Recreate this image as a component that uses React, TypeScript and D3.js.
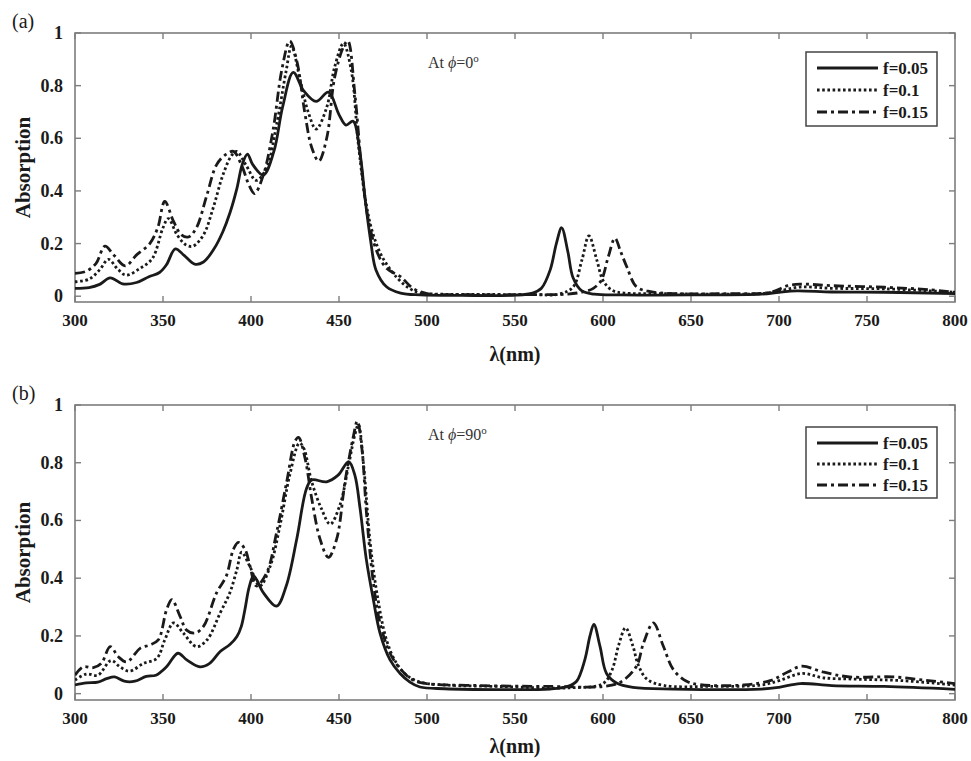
import React from "react";
import * as d3 from "d3";

type Pt = [number, number];

// ---------- data (wavelength nm, absorption) ----------
const xTicks = [300, 350, 400, 450, 500, 550, 600, 650, 700, 750, 800];
const yTicks = [0, 0.2, 0.4, 0.6, 0.8, 1];
const yTickLabels = ["0", "0.2", "0.4", "0.6", "0.8", "1"];
const seriesNames = ["f=0.05", "f=0.1", "f=0.15"];
const panelLabels = ["(a)", "(b)"];
const panelAngles = ["0", "90"];

const a005: Pt[] = [[300,0.03],[308,0.033],[314,0.045],[320,0.07],[327,0.047],[335,0.052],[342,0.074],[348,0.09],[352,0.12],[357,0.18],[362,0.155],[368,0.122],[373,0.13],[379,0.18],[384,0.245],[388,0.316],[392,0.41],[395,0.5],[398,0.54],[401,0.5],[407,0.46],[413,0.55],[418,0.72],[424,0.85],[430,0.78],[437,0.74],[444,0.775],[450,0.69],[454,0.65],[458,0.665],[462,0.54],[465,0.36],[468,0.21],[471,0.1],[477,0.036],[485,0.012],[496,0.005],[520,0.003],[550,0.004],[560,0.012],[565,0.03],[570,0.1],[573.5,0.2],[576.5,0.26],[580,0.17],[583,0.07],[588,0.02],[595,0.008],[610,0.005],[650,0.005],[690,0.008],[700,0.015],[710,0.02],[730,0.016],[760,0.015],[800,0.01]];
const a010: Pt[] = [[300,0.055],[308,0.065],[314,0.1],[319,0.14],[324,0.105],[329,0.08],[337,0.106],[344,0.144],[350,0.26],[353,0.295],[358,0.233],[363,0.195],[367,0.19],[373,0.233],[378.5,0.335],[384,0.46],[389,0.535],[392,0.55],[397,0.5],[403,0.44],[409,0.49],[414.5,0.65],[420,0.857],[423,0.95],[428,0.82],[432.5,0.7],[437,0.635],[443,0.717],[447.5,0.87],[452.5,0.96],[457,0.857],[461,0.577],[465.5,0.348],[469.5,0.233],[475,0.144],[483,0.07],[490,0.03],[496,0.012],[505,0.008],[530,0.007],[560,0.006],[575,0.008],[583,0.035],[588,0.137],[592,0.229],[596.5,0.137],[600,0.06],[605,0.023],[612,0.012],[630,0.01],[660,0.008],[690,0.01],[700,0.02],[712,0.035],[730,0.03],[760,0.028],[800,0.015]];
const a015: Pt[] = [[300,0.087],[306.5,0.095],[312,0.125],[317,0.19],[322,0.157],[328.5,0.115],[335,0.157],[342.5,0.2],[347,0.26],[351,0.36],[356,0.284],[360.5,0.233],[364.5,0.225],[369,0.26],[375,0.386],[380.5,0.5],[386,0.54],[390,0.55],[394.5,0.5],[399,0.42],[402,0.39],[407,0.46],[412.5,0.63],[417.5,0.86],[422,0.97],[426,0.895],[430.5,0.7],[434.5,0.565],[438.5,0.513],[443,0.6],[447.5,0.83],[452.5,0.947],[455,0.97],[459,0.77],[463,0.475],[466.5,0.297],[471.5,0.17],[477,0.106],[485,0.074],[492,0.03],[500,0.01],[520,0.006],[560,0.006],[580,0.008],[589,0.017],[594.5,0.03],[599,0.06],[603,0.15],[606.8,0.22],[610,0.17],[613.5,0.112],[619,0.036],[627,0.017],[640,0.01],[670,0.01],[695,0.015],[705,0.04],[712,0.046],[730,0.04],[760,0.034],[785,0.025],[800,0.015]];

const b005: Pt[] = [[300,0.03],[306.5,0.037],[313,0.04],[318,0.052],[322.5,0.058],[328,0.043],[334,0.043],[340.5,0.06],[346,0.064],[352,0.093],[358.5,0.14],[363.5,0.117],[371,0.093],[376.5,0.105],[382.5,0.146],[388,0.17],[392,0.198],[394.5,0.233],[396.5,0.29],[399,0.37],[401.5,0.408],[407,0.35],[414.5,0.303],[420,0.373],[426,0.536],[431.5,0.71],[434.5,0.74],[443,0.734],[449.5,0.757],[455.5,0.804],[459,0.757],[462,0.64],[465.5,0.466],[469.5,0.326],[473.3,0.21],[479,0.117],[484.7,0.07],[490.3,0.04],[496,0.023],[510,0.017],[540,0.014],[570,0.016],[580,0.025],[585,0.043],[589.7,0.118],[592.6,0.2],[594.8,0.24],[598.3,0.164],[602,0.07],[607.7,0.037],[617,0.022],[640,0.016],[690,0.016],[700,0.022],[712,0.035],[730,0.028],[760,0.025],[800,0.015]];
const b010: Pt[] = [[300,0.047],[306.5,0.068],[313,0.064],[320.5,0.115],[325.5,0.093],[331,0.078],[339,0.105],[346.5,0.122],[351,0.186],[356,0.245],[361.5,0.21],[369,0.163],[375,0.186],[382.5,0.28],[388,0.35],[392,0.43],[394.7,0.49],[399.4,0.44],[405,0.373],[411,0.443],[416.5,0.583],[422,0.757],[427.5,0.868],[430,0.85],[434.5,0.734],[440,0.641],[445,0.587],[450.5,0.653],[455.5,0.793],[459,0.897],[461,0.932],[464,0.79],[467.5,0.536],[471.5,0.35],[477,0.186],[482.7,0.105],[488.4,0.064],[496,0.04],[510,0.03],[540,0.025],[580,0.02],[600,0.035],[605,0.08],[609,0.17],[612.8,0.228],[617,0.165],[620,0.1],[625,0.05],[635,0.028],[660,0.025],[690,0.03],[700,0.045],[713,0.07],[725,0.055],[745,0.05],[770,0.045],[800,0.03]];
const b015: Pt[] = [[300,0.064],[304.7,0.093],[310.4,0.09],[315,0.105],[320,0.163],[324.6,0.128],[329.4,0.11],[337,0.157],[342.6,0.169],[347.3,0.186],[352,0.29],[355,0.326],[359.7,0.268],[363.4,0.22],[368.2,0.21],[373,0.233],[380.5,0.35],[386,0.408],[390,0.5],[392.8,0.524],[396.6,0.5],[399.4,0.443],[403,0.373],[409,0.42],[414.6,0.56],[420.3,0.734],[425,0.874],[427,0.888],[430.7,0.816],[434.5,0.676],[439.2,0.536],[444,0.472],[448.7,0.536],[453.4,0.734],[458,0.886],[460.4,0.944],[463,0.85],[465.7,0.618],[469.5,0.385],[473.3,0.245],[479,0.14],[484.7,0.087],[492,0.047],[500,0.035],[530,0.028],[570,0.025],[600,0.025],[610,0.04],[619,0.095],[623,0.175],[628.6,0.245],[634.3,0.164],[640,0.083],[647.5,0.043],[655,0.031],[680,0.03],[695,0.045],[705,0.075],[713,0.095],[725,0.075],[740,0.058],[765,0.058],[785,0.045],[800,0.035]];

// ---------- styling ----------
const dashes = [null, "2.6,2.6", "10,4,3,4"];
const SERIF = "'Liberation Serif', 'Times New Roman', serif";
const AXIS = "#7d7d7d";
const INK = "#1a1a1a";

const L = 75, R = 955;
const panels = [
  { top: 33, bottom: 302, data: [a005, a010, a015], legendTop: 52, xlabOff: 59 },
  { top: 405, bottom: 700, data: [b005, b010, b015], legendTop: 427, xlabOff: 53 },
];

function Panel({ idx }: { idx: number }) {
  const p = panels[idx];
  const x = d3.scaleLinear().domain([300, 800]).range([L, R]);
  const y = d3.scaleLinear().domain([-0.022, 1]).range([p.bottom, p.top]);
  const line = d3
    .line<Pt>()
    .x((d) => x(d[0]))
    .y((d) => y(d[1]))
    .curve(d3.curveCatmullRom.alpha(0.5));
  const clipId = `clip${idx}`;
  const tl = 6;
  const lx = 806, lw = 131, lh = idx === 0 ? 74 : 71;
  const rowGap = idx === 0 ? 22 : 21;
  return (
    <g>
      <defs>
        <clipPath id={clipId}>
          <rect x={L} y={p.top} width={R - L} height={p.bottom - p.top} />
        </clipPath>
      </defs>
      <rect x={L} y={p.top} width={R - L} height={p.bottom - p.top} fill="white" stroke={AXIS} strokeWidth={1.6} />
      {xTicks.map((t) => (
        <g key={"x" + t}>
          <line x1={x(t)} x2={x(t)} y1={p.bottom} y2={p.bottom - tl} stroke={AXIS} strokeWidth={1.4} />
          <line x1={x(t)} x2={x(t)} y1={p.top} y2={p.top + tl} stroke={AXIS} strokeWidth={1.4} />
          <text x={x(t)} y={p.bottom + 24} textAnchor="middle" fontFamily={SERIF} fontWeight="bold" fontSize={17} fill={INK}>
            {t}
          </text>
        </g>
      ))}
      {yTicks.map((t, i) => (
        <g key={"y" + t}>
          <line x1={L} x2={L + tl} y1={y(t)} y2={y(t)} stroke={AXIS} strokeWidth={1.4} />
          <line x1={R} x2={R - tl} y1={y(t)} y2={y(t)} stroke={AXIS} strokeWidth={1.4} />
          <text x={63} y={y(t) + 6} textAnchor="end" fontFamily={SERIF} fontWeight="bold" fontSize={18} fill={INK}>
            {yTickLabels[i]}
          </text>
        </g>
      ))}
      <g clipPath={`url(#${clipId})`}>
        {p.data.map((s, i) => (
          <path
            key={i}
            d={line(s) || ""}
            fill="none"
            stroke={INK}
            strokeWidth={2.8}
            strokeDasharray={dashes[i] || undefined}
            strokeLinejoin="round"
          />
        ))}
      </g>
      <text
        transform={`translate(30, ${(p.top + p.bottom) / 2}) rotate(-90)`}
        textAnchor="middle"
        fontFamily={SERIF}
        fontWeight="bold"
        fontSize={21}
        fill={INK}
      >
        Absorption
      </text>
      <text x={(L + R) / 2} y={p.bottom + p.xlabOff} textAnchor="middle" fontFamily={SERIF} fontWeight="bold" fontSize={20} fill={INK}>
        λ(nm)
      </text>
      <text x={12} y={p.top - 5} fontFamily={SERIF} fontSize={20} fill={INK}>
        {panelLabels[idx]}
      </text>
      <text x={428} y={p.top + 35} fontFamily={SERIF} fontSize={16} fill="#333">
        At <tspan fontStyle="italic">ϕ</tspan>={panelAngles[idx]}
        <tspan dy={-6} fontSize={11}>o</tspan>
      </text>
      <rect x={lx} y={p.legendTop} width={lw} height={lh} fill="white" stroke="#444" strokeWidth={1.5} />
      {seriesNames.map((n, i) => {
        const cy = p.legendTop + 16 + i * rowGap;
        return (
          <g key={n}>
            <line x1={817} x2={878} y1={cy} y2={cy} stroke={INK} strokeWidth={2.8} strokeDasharray={dashes[i] || undefined} />
            <text x={883} y={cy + 6} fontFamily={SERIF} fontWeight="bold" fontSize={17} fill={INK}>
              {n}
            </text>
          </g>
        );
      })}
    </g>
  );
}

export default function App() {
  return (
    <svg
      width={971}
      height={761}
      viewBox="0 0 971 761"
      style={{ position: "absolute", left: 0, top: 0, background: "white" }}
    >
      <rect x={0} y={0} width={971} height={761} fill="white" />
      <Panel idx={0} />
      <Panel idx={1} />
    </svg>
  );
}
